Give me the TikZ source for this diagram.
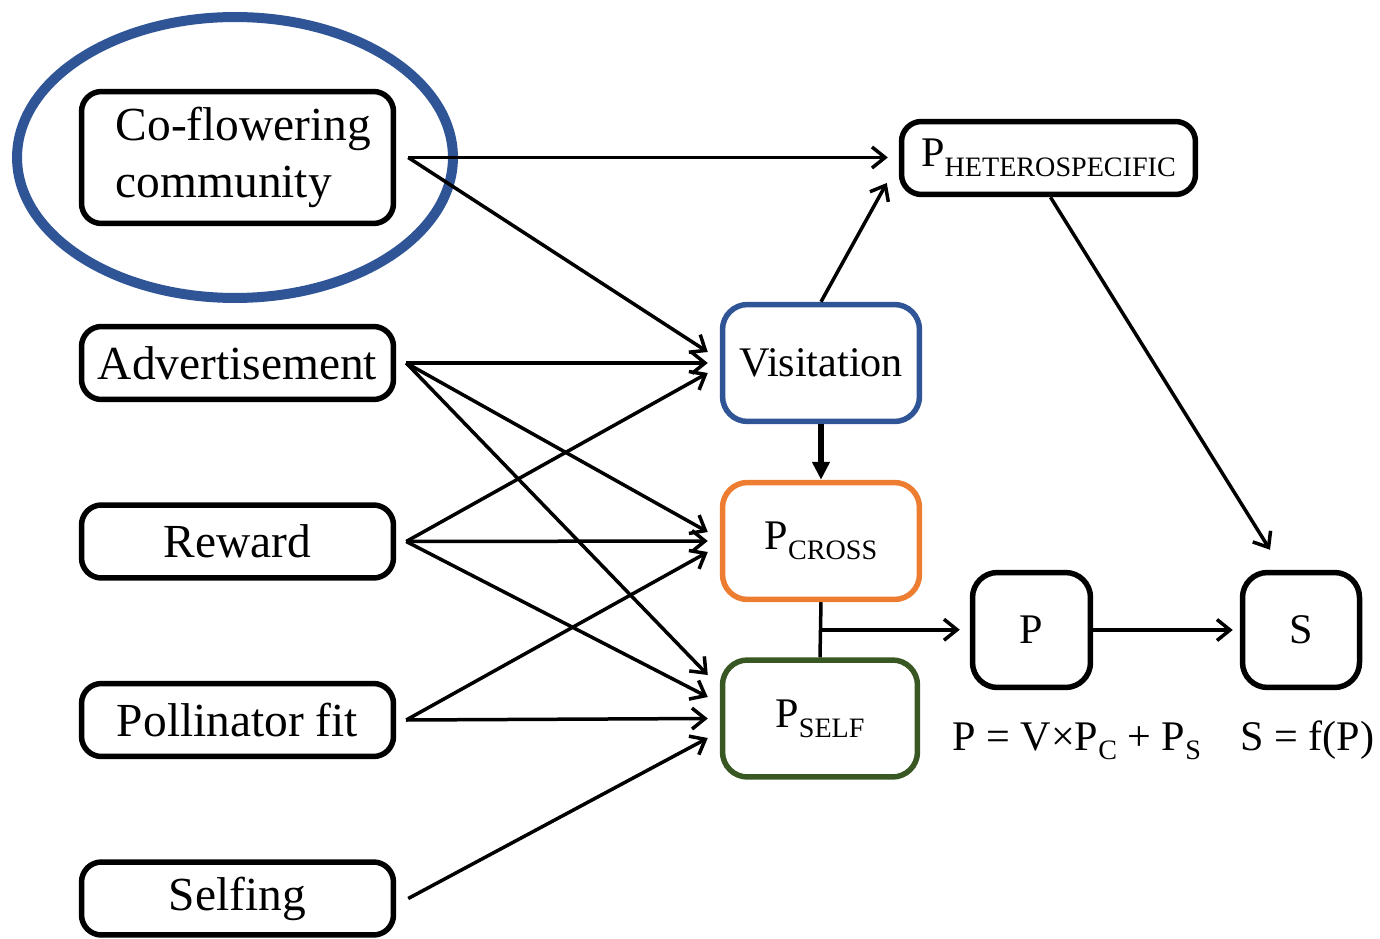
\documentclass[tikz,border=0pt]{standalone}
\usepackage{fontspec}
\setmainfont{Liberation Serif}
\usetikzlibrary{positioning}
\usetikzlibrary{calc}
\usetikzlibrary{arrows.meta}

\definecolor{ringblue}{RGB}{47,85,151}
\definecolor{crossorange}{RGB}{237,125,49}
\definecolor{selfgreen}{RGB}{56,87,35}

\newcommand{\lowsub}[1]{\raisebox{-5.5pt}{\fontsize{16}{16}\selectfont #1}}

\begin{document}
\begin{tikzpicture}
[
	x								= 0.02cm,
	y								= -0.02cm,
	%
	% left column of boxes
	box/.style						=
	{
		draw,
		line width					= 0.11cm,
		rounded corners				= 0.4cm,
		inner sep					= 0pt,
		minimum width				= 6.24cm,
		minimum height				= 1.46cm,
		font						= \fontsize{27}{32.4}\selectfont
	},
	%
	% boxes on the right
	probbox/.style					=
	{
		draw,
		line width					= 0.11cm,
		rounded corners				= 0.5cm,
		inner sep					= 0pt,
		minimum width				= 3.94cm,
		minimum height				= 2.34cm,
		font						= \fontsize{24}{28}\selectfont
	},
	%
	link/.style						=
	{
		line width					= 0.07cm,
		-{Straight Barb[length=0.26cm,width=0.42cm]}
	},
	thicklink/.style				=
	{
		line width					= 0.11cm,
		-{Triangle[length=0.36cm,width=0.34cm]}
	},
	ring/.style						= {draw = ringblue, line width = 0.2cm},
]
	\useasboundingbox (0,0) rectangle (1380,939);

	% inputs
	\node (community) [box, minimum height = 2.64cm, align = left] at (237.5,157.5) {\hspace*{0.24cm}Co-flowering\\\hspace*{0.24cm}community};
	\node (advert) [box] at (237.5,363) {Advertisement};
	\node (reward) [box] at (237.5,541.5) {Reward};
	\node (fit) [box] at (237.5,720) {Pollinator fit};
	\node (selfing) [box] at (237.5,898.5) {Selfing};

	\draw [ring] (235,157.5) ellipse [x radius = 4.36cm, y radius = 2.81cm];

	% middle column
	\node (visit) [probbox, draw = ringblue] at (821,363) {Visitation};
	\node (cross) [probbox, draw = crossorange] at (821,541) {P\lowsub{CROSS}};
	\node (self) [probbox, draw = selfgreen, minimum width = 3.9cm] at (820,718.5) {P\lowsub{SELF}};

	% right part
	\node (hetero) [probbox, minimum width = 5.88cm, minimum height = 1.46cm, rounded corners = 0.4cm] at (1048.5,158) {P\lowsub{HETEROSPECIFIC}};
	\node (pnode) [probbox, minimum width = 2.36cm, minimum height = 2.3cm] at (1031.5,630) {P};
	\node (snode) [probbox, minimum width = 2.34cm, minimum height = 2.3cm] at (1301,630) {S};

	\node (peq) [anchor = base west, inner sep = 0pt, font = \fontsize{24}{28}\selectfont] at (952,750) {P = V×P\lowsub{C} + P\lowsub{S}};
	\node (seq) [anchor = base west, inner sep = 0pt, font = \fontsize{24}{28}\selectfont] at (1240,750) {S = f(P)};

	% arrows from the inputs
	\draw [link] ([xshift = 0.24cm]community.east) -- ([xshift = -0.22cm]hetero.west |- community.east);
	\draw [link] ([xshift = 0.24cm]community.east) -- ([xshift = -0.24cm, yshift = 0.22cm]visit.west);

	\draw [link] ([xshift = 0.2cm]advert.east) -- ([xshift = -0.24cm]visit.west);
	\draw [link] ([xshift = 0.2cm]advert.east) -- ([xshift = -0.24cm, yshift = 0.18cm]cross.west);
	\draw [link] ([xshift = 0.2cm]advert.east) -- ([xshift = -0.24cm, yshift = 0.87cm]self.west);

	\draw [link] ([xshift = 0.2cm]reward.east) -- ([xshift = -0.24cm, yshift = -0.2cm]visit.west);
	\draw [link] ([xshift = 0.2cm]reward.east) -- ([xshift = -0.24cm]cross.west);
	\draw [link] ([xshift = 0.2cm]reward.east) -- ([xshift = -0.24cm, yshift = 0.43cm]self.west);

	\draw [link] ([xshift = 0.2cm]fit.east) -- ([xshift = -0.24cm, yshift = -0.22cm]cross.west);
	\draw [link] ([xshift = 0.2cm]fit.east) -- ([xshift = -0.24cm]self.west);

	\draw [link] ([xshift = 0.24cm]selfing.east) -- ([xshift = -0.24cm, yshift = -0.39cm]self.west);

	% inner arrows
	\draw [link] (visit.north) -- ([xshift = -0.24cm, yshift = -0.5cm]hetero.west);
	\draw [thicklink] (visit.south) -- (cross.north);
	\draw [line width = 0.07cm] (cross.south) -- (self.north);
	\coordinate (split) at ($(cross.south)!0.5!(self.north)$);
	\draw [link, shorten > = 0.2cm] (split) -- (split -| pnode.west);
	\draw [link, shorten > = 0.14cm] (pnode.east) -- (snode.west);
	\draw [link] ([xshift = 0.04cm]hetero.south) -- ([xshift = -0.62cm, yshift = 0.4cm]snode.north);

\end{tikzpicture}
\end{document}
